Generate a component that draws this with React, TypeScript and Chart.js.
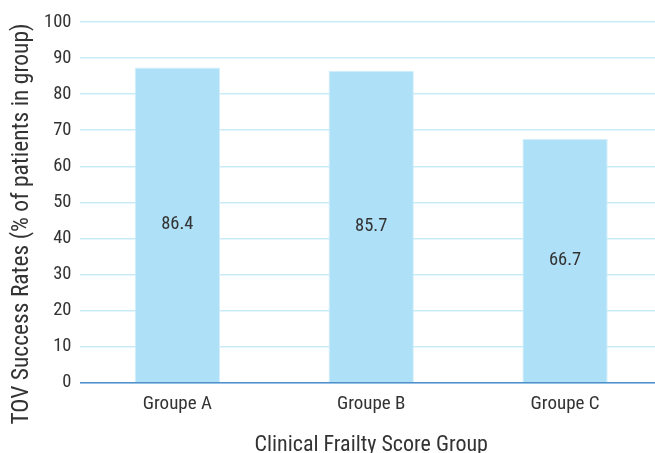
import React, { useEffect, useRef } from "react";
import { Chart, registerables } from "chart.js";

Chart.register(...registerables);

const categories = ["Groupe A", "Groupe B", "Groupe C"];
const barValues = [87.4, 86.5, 67.6];
const labelValues = ["86.4", "85.7", "66.7"];
const yTitle = "TOV Success Rates (% of patients in group)";
const xTitle = "Clinical Frailty Score Group";

const FONT = "'Roboto Condensed', 'Liberation Sans Narrow', 'Arial Narrow', 'DejaVu Sans Condensed', Roboto, sans-serif";
const TEXT = "#333333";

const labelPlugin = {
  id: "barLabels",
  afterDatasetsDraw(chart: any) {
    const ctx = chart.ctx;
    const meta = chart.getDatasetMeta(0);
    ctx.save();
    ctx.font = `18.5px ${FONT}`;
    ctx.fillStyle = TEXT;
    ctx.textAlign = "center";
    ctx.textBaseline = "middle";
    meta.data.forEach((bar: any, i: number) => {
      const y = (bar.y + bar.base) / 2;
      ctx.fillText(labelValues[i], bar.x, y);
    });
    ctx.restore();
  },
};

const yTitlePlugin = {
  id: "yTitle",
  afterDraw(chart: any) {
    const ctx = chart.ctx;
    ctx.save();
    ctx.font = `23.5px ${FONT}`;
    ctx.fillStyle = TEXT;
    ctx.textAlign = "center";
    ctx.textBaseline = "middle";
    ctx.translate(22, 224);
    ctx.rotate(-Math.PI / 2);
    ctx.fillText(yTitle, 0, 0);
    ctx.restore();
  },
};

export default function App() {
  const ref = useRef<HTMLCanvasElement>(null);
  useEffect(() => {
    document.body.style.margin = "0";
    document.body.style.overflow = "hidden";
    const chart = new Chart(ref.current!, {
      type: "bar",
      data: {
        labels: categories,
        datasets: [
          {
            data: barValues,
            backgroundColor: "#aee0f7",
            borderColor: "#d2effb",
            borderWidth: 1,
            barPercentage: 0.44,
            categoryPercentage: 1,
          },
        ],
      },
      plugins: [labelPlugin, yTitlePlugin],
      options: {
        animation: false,
        responsive: false,
        layout: { padding: { left: 35, right: 0, top: 22, bottom: 0 } },
        plugins: { legend: { display: false }, tooltip: { enabled: false } },
        scales: {
          x: {
            grid: { display: false, drawTicks: false },
            border: { display: true, color: "#4f8fcb", width: 1.5 },
            ticks: { color: TEXT, font: { family: FONT, size: 19 }, padding: 10 },
            title: {
              display: true,
              text: xTitle,
              color: TEXT,
              font: { family: FONT, size: 22 },
              padding: { top: 7, bottom: -6 },
            },
          },
          y: {
            min: 0,
            max: 100,
            ticks: { stepSize: 10, color: TEXT, font: { family: FONT, size: 18.5 }, padding: 9 },
            grid: { color: "#c9ebf9", lineWidth: 1.5, drawTicks: false },
            border: { display: false },
          },
        },
      },
    });
    return () => chart.destroy();
  }, []);
  return (
    <div style={{ width: 655, height: 453, overflow: "hidden" }}>
      <canvas ref={ref} width={662} height={453} style={{ display: "block" }} />
    </div>
  );
}
